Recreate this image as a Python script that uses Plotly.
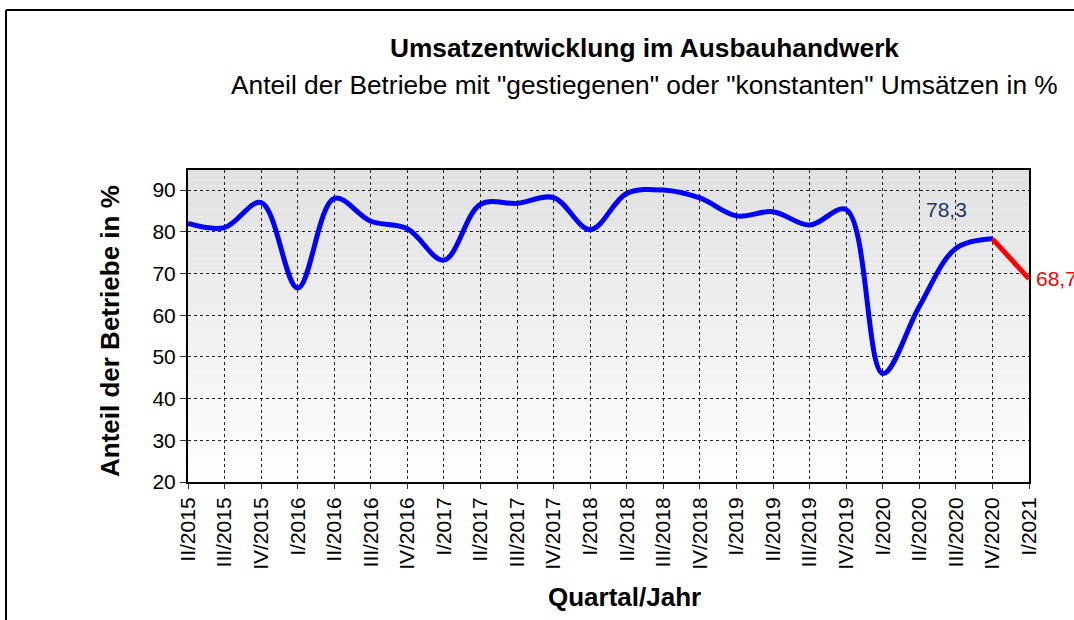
import plotly.graph_objects as go

quarters = ["II/2015", "III/2015", "IV/2015", "I/2016", "II/2016", "III/2016", "IV/2016",
            "I/2017", "II/2017", "III/2017", "IV/2017", "I/2018", "II/2018", "III/2018",
            "IV/2018", "I/2019", "II/2019", "III/2019", "IV/2019", "I/2020", "II/2020",
            "III/2020", "IV/2020", "I/2021"]
values = [82.0, 81.0, 87.0, 66.5, 88.0, 82.5, 80.7, 73.2, 86.6, 86.8, 88.2, 80.5, 89.2,
          90.0, 88.1, 83.8, 84.8, 81.6, 85.3, 46.0, 62.1, 76.0, 78.3, 68.7]
forecast_quarters = ["IV/2020", "I/2021"]
forecast_values = [78.3, 68.7]
y_ticks = [20, 30, 40, 50, 60, 70, 80, 90]

FONT = "Liberation Sans, Arial, sans-serif"

fig = go.Figure()
fig.add_trace(go.Scatter(x=quarters[:-1], y=values[:-1], mode="lines",
                         line=dict(color="#0000FF", width=5, shape="spline", smoothing=1.0),
                         showlegend=False, hoverinfo="x+y"))
fig.add_trace(go.Scatter(x=forecast_quarters, y=forecast_values, mode="lines",
                         line=dict(color="#FF0000", width=5, shape="spline", smoothing=1.0),
                         showlegend=False, hoverinfo="x+y"))

# gradient background of plot area (light gray top -> white bottom)
shapes = []
n = 60
for i in range(n):
    t = i / (n - 1)
    c = int(round(224 + (255 - 224) * t))
    shapes.append(dict(type="rect", xref="x domain", yref="y domain",
                       x0=0, x1=1, y0=1 - (i + 1) / n, y1=1 - i / n,
                       fillcolor=f"rgb({c},{c},{c})", line=dict(width=0), layer="below"))
# outer chart frame (cut off at right and bottom)
shapes.append(dict(type="line", xref="paper", yref="paper", x0=-0.2164, x1=-0.2164,
                   y0=-1, y1=1.5128, line=dict(color="black", width=2)))
shapes.append(dict(type="line", xref="paper", yref="paper", x0=-0.2164, x1=1.3,
                   y0=1.5128, y1=1.5128, line=dict(color="black", width=2)))
fig.update_layout(shapes=shapes)

annotations = [
    dict(text="<b>Umsatzentwicklung im Ausbauhandwerk</b>", xref="paper", yref="paper",
         x=0.5434, y=1.391, xanchor="center", yanchor="middle", showarrow=False,
         font=dict(size=26.3, color="black", family=FONT)),
    dict(text='Anteil der Betriebe mit "gestiegenen" oder "konstanten" Umsätzen in %',
         xref="paper", yref="paper", x=0.5434, y=1.2724, xanchor="center", yanchor="middle",
         showarrow=False, font=dict(size=26.3, color="black", family=FONT)),
    dict(text="<b>Quartal/Jahr</b>", xref="paper", yref="paper", x=0.5196, y=-0.3686,
         xanchor="center", yanchor="middle", showarrow=False,
         font=dict(size=26, color="black", family=FONT)),
    dict(text="<b>Anteil der Betriebe in %</b>", xref="paper", yref="paper", x=-0.0927,
         y=0.484, xanchor="center", yanchor="middle", textangle=-90, showarrow=False,
         font=dict(size=26, color="black", family=FONT)),
    dict(text=str(forecast_values[0]).replace(".", ","), x=forecast_quarters[0],
         y=forecast_values[0], xshift=-46, yshift=29, showarrow=False,
         font=dict(size=21, color="#1F3864", family=FONT)),
    dict(text=str(forecast_values[1]).replace(".", ","), x=forecast_quarters[1],
         y=forecast_values[1], xanchor="left", xshift=5, showarrow=False,
         font=dict(size=21, color="#FF0000", family=FONT)),
]
fig.update_layout(annotations=annotations)

fig.update_layout(
    width=1074, height=620,
    margin=dict(l=188, r=45, t=170, b=138),
    paper_bgcolor="white", plot_bgcolor="white",
    font=dict(family=FONT, color="black"),
    xaxis=dict(type="category", categoryorder="array", categoryarray=quarters,
               range=[0, len(quarters) - 1], tickangle=-90,
               tickfont=dict(size=21, color="black"),
               showgrid=True, gridcolor="#222", griddash="dot", gridwidth=1,
               ticks="outside", ticklen=5, tickcolor="#333",
               showline=True, linecolor="black", linewidth=2, mirror=True,
               zeroline=False),
    yaxis=dict(range=[20, 94.8], tickvals=y_ticks, tickfont=dict(size=21, color="black"),
               showgrid=True, gridcolor="#222", griddash="dot", gridwidth=1,
               ticks="outside", ticklen=6, tickcolor="#333",
               showline=True, linecolor="black", linewidth=2, mirror=True,
               zeroline=False),
)

fig.write_html("out.html", config={"displayModeBar": False},
               post_script="document.body.style.margin='0px';")
